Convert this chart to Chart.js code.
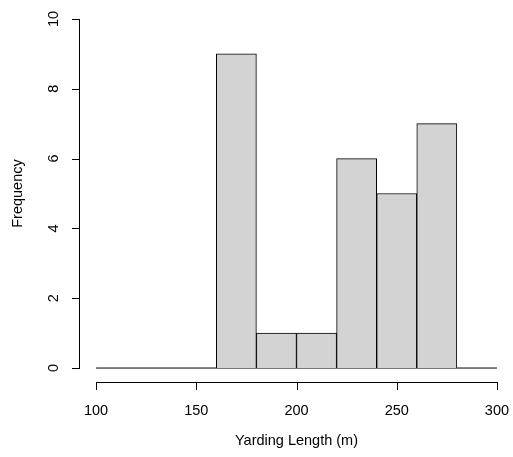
<!DOCTYPE html>
<html>
<head>
<meta charset="utf-8">
<script src="https://cdn.jsdelivr.net/npm/chart.js@4/dist/chart.umd.min.js"></script>
<style>
  html, body { margin:0; padding:0; background:#fff; overflow:hidden; }
  #wrap { width:513px; height:457px; position:relative; }
</style>
</head>
<body>
<div id="wrap"><canvas id="hist"></canvas></div>
<script>
// histogram bins (20 m wide) and counts
const breaks = [100,120,140,160,180,200,220,240,260,280,300];
const counts = [0,0,0,9,1,1,6,5,7,0];
const xTicks = [100,150,200,250,300];
const yTicks = [0,2,4,6,8,10];

const mids = counts.map((c,i)=>({x:(breaks[i]+breaks[i+1])/2, y:c}));
const FONT = "Liberation Sans, Arial, sans-serif";

// R style axes + titles
const rAxes = {
    id:"rAxes",
    afterDraw(chart){
        let ctx = chart.ctx;
        let xs = chart.scales.x, ys = chart.scales.y;
        let ax = chart.chartArea.left, ay = chart.chartArea.bottom;
        ctx.save();
        ctx.strokeStyle = "#000";
        ctx.lineWidth = 1;
        ctx.fillStyle = "#000";
        ctx.font = "14.5px " + FONT;

        // x axis
        let x0 = xs.getPixelForValue(xTicks[0]), x1 = xs.getPixelForValue(xTicks[xTicks.length-1]);
        ctx.beginPath();
        ctx.moveTo(x0, ay+0.5); ctx.lineTo(x1, ay+0.5);
        xTicks.forEach(t=>{
            let p = Math.round(xs.getPixelForValue(t))+0.5;
            ctx.moveTo(p, ay); ctx.lineTo(p, ay+8);
        });
        ctx.stroke();
        ctx.textAlign = "center"; ctx.textBaseline = "middle";
        xTicks.forEach(t=>ctx.fillText(String(t), xs.getPixelForValue(t), ay+29));

        // y axis
        let y0 = ys.getPixelForValue(yTicks[0]), y1 = ys.getPixelForValue(yTicks[yTicks.length-1]);
        ctx.beginPath();
        ctx.moveTo(ax-0.5, y0); ctx.lineTo(ax-0.5, y1);
        yTicks.forEach(t=>{
            let p = Math.round(ys.getPixelForValue(t))+0.5;
            ctx.moveTo(ax, p); ctx.lineTo(ax-8, p);
        });
        ctx.stroke();
        yTicks.forEach(t=>{
            ctx.save();
            ctx.translate(ax-26, ys.getPixelForValue(t));
            ctx.rotate(-Math.PI/2);
            ctx.fillText(String(t), 0, 0);
            ctx.restore();
        });

        // titles
        ctx.fillText("Yarding Length (m)", (x0+x1)/2, ay+59);
        ctx.save();
        ctx.translate(ax-62, (y0+y1)/2);
        ctx.rotate(-Math.PI/2);
        ctx.fillText("Frequency", 0, 0);
        ctx.restore();
        ctx.restore();
    }
};

new Chart(document.getElementById("hist"),{
    type:"bar",
    data:{
        datasets:[
            {
                type:"line",
                data:[{x:breaks[0],y:0},{x:breaks[breaks.length-1],y:0}],
                borderColor:"#000",
                borderWidth:1,
                pointRadius:0,
                order:2
            },
            {
                data:mids,
                backgroundColor:"#d3d3d3",
                borderColor:"#000",
                borderWidth:1,
                barPercentage:1,
                categoryPercentage:1,
                order:1
            }
        ]
    },
    options:{
        responsive:true,
        maintainAspectRatio:false,
        animation:false,
        layout:{padding:{left:80,top:5,right:0,bottom:75}},
        plugins:{legend:{display:false},tooltip:{enabled:false}},
        scales:{
            x:{type:"linear",min:92,max:308,offset:false,display:false},
            y:{min:-0.4,max:10.4,display:false}
        }
    },
    plugins:[rAxes]
});
</script>
</body>
</html>
